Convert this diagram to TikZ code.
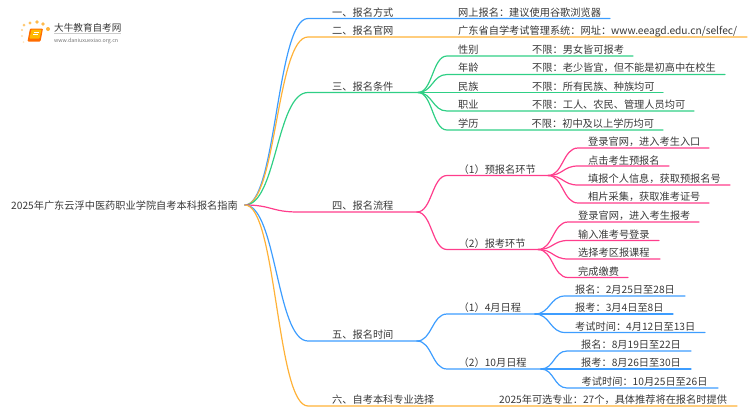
\documentclass[tikz,border=0pt]{standalone}
\usepackage{fontspec}
\setmainfont{Noto Sans CJK SC}
\usetikzlibrary{calc}
\definecolor{cblue}{HTML}{3D9DFF}
\definecolor{corange}{HTML}{FFB238}
\definecolor{cgreen}{HTML}{2FCF85}
\definecolor{cpink}{HTML}{FF3D8C}
\definecolor{ctext}{HTML}{383838}
\tikzset{
  lab/.style={anchor=west,inner sep=0pt,yshift=-1pt,text height=8.5pt,text depth=1.5pt,text=ctext,font=\fontsize{10.2}{12}\selectfont},
  wire/.style={line width=1.2pt,line cap=round,line join=round}
}
% \cv{style}{from}{to}{end}: S-curve from a hub to a point, then a straight underline
\newcommand\cv[4]{\draw[wire,#1] (#2) .. controls ($(#2)!.5!(#2-|#3)$) and ($(#3)!.5!(#3-|#2)$) .. (#3) -- (#4);}
\begin{document}
\begin{tikzpicture}[x=1pt,y=-1pt]
\useasboundingbox (0,0) rectangle (750,410);
% logo
\foreach \x/\y/\r/\o in {24/25/1.5/.7,30/23/1.7/.8,37/22/1.8/.9,43/24/1.8/.9,48/29/2/1,22/30/1.2/.6,22/36/1.1/.4,23.5/42/1/.3}
  \fill[corange,opacity=\o] (\x,\y) circle (\r);
\fill[rounded corners=1pt,orange!85!red] (30,28.5) -- (43,28.5) -- (40.5,41.5) -- (27.5,41.5) -- cycle;
\fill[rounded corners=.6pt,orange!55!yellow] (31.5,29.5) -- (41.5,29.5) -- (39.5,38.5) -- (29.5,38.5) -- cycle;
\draw[white,line width=.5pt] (33.5,32.5) -- (38.5,32.5) (33,34.5) -- (38,34.5);
\node[lab,font=\fontsize{9.6}{11}\selectfont] (logoa) at (54,26.5) {大牛教育自考网};
\draw[black!20,line width=.5pt] (54,33.3) -- (121,33.3);
\node[lab,text=black!55,font=\fontsize{5.3}{6}\selectfont] (logob) at (54,38.2) {www.daniuxuexiao.org.cn};

% hubs and ends
\coordinate (root) at (245,205);
\coordinate (h3) at (418,92.5);
\coordinate (h4) at (417,212);
\coordinate (h5) at (417,341);
\coordinate (h41) at (548,175.5);
\coordinate (h42) at (538,249.5);
\coordinate (h51) at (535,314);
\coordinate (h52) at (541,369);

% first level
\cv{cblue}{root}{308,18.5}{610,18.5}
\cv{corange}{root}{308,37}{747,37}
\cv{cgreen}{root}{308,92.5}{h3}
\cv{cpink}{root}{298,212}{h4}
\cv{cblue}{root}{308,341}{h5}
\cv{corange}{root}{308,406}{737,406}
% conditions
\cv{cgreen}{h3}{447,56}{633,56}
\cv{cgreen}{h3}{447,74.5}{725,74.5}
\cv{cgreen}{h3}{447,92.5}{663,92.5}
\cv{cgreen}{h3}{447,111}{694,111}
\cv{cgreen}{h3}{447,130}{663,130}
% process
\cv{cpink}{h4}{447,175.5}{h41}
\cv{cpink}{h4}{447,249.5}{h42}
\cv{cpink}{h41}{578,148}{709,148}
\cv{cpink}{h41}{578,166}{669,166}
\cv{cpink}{h41}{578,185}{730,185}
\cv{cpink}{h41}{578,203}{709,203}
\cv{cpink}{h42}{568,222}{699,222}
\cv{cpink}{h42}{568,240.5}{659,240.5}
\cv{cpink}{h42}{568,259}{660,259}
\cv{cpink}{h42}{568,277.5}{628,277.5}
% dates
\cv{cblue}{h5}{447,314}{h51}
\cv{cblue}{h5}{447,369}{h52}
\cv{cblue}{h51}{565,296}{685,296}
\cv{cblue}{h51}{565,314}{673,314}
\cv{cblue}{h51}{565,332.5}{705,332.5}
\cv{cblue}{h52}{567,351}{691,351}
\cv{cblue}{h52}{567,369}{691,369}
\cv{cblue}{h52}{567,388}{718,388}

% texts
\node[lab] (troot) at (11,205) {2025年广东云浮中医药职业学院自考本科报名指南};
\node[lab] (t1) at (332,11.5) {一、报名方式};
\node[lab] (t2) at (332,30) {二、报名官网};
\node[lab] (t3) at (332,85.5) {三、报名条件};
\node[lab] (t4) at (332,205) {四、报名流程};
\node[lab] (t5) at (332,334) {五、报名时间};
\node[lab] (t6) at (332,399) {六、自考本科专业选择};
\node[lab] (a1) at (458,11.5) {网上报名：建议使用谷歌浏览器};
\node[lab] (a2) at (458,30) {广东省自学考试管理系统：网址：www.eeagd.edu.cn/selfec/};
\node[lab] (c1) at (458,48.5) {性别};
\node[lab] (c2) at (458,67) {年龄};
\node[lab] (c3) at (458,85.5) {民族};
\node[lab] (c4) at (458,104) {职业};
\node[lab] (c5) at (458,122.5) {学历};
\node[lab] (d1) at (532,48.5) {不限：男女皆可报考};
\node[lab] (d2) at (532,67) {不限：老少皆宜，但不能是初高中在校生};
\node[lab] (d3) at (532,85.5) {不限：所有民族、种族均可};
\node[lab] (d4) at (532,104) {不限：工人、农民、管理人员均可};
\node[lab] (d5) at (531.5,122.5) {不限：初中及以上学历均可};
\node[lab] (p1) at (458.5,168.5) {（1）预报名环节};
\node[lab] (p2) at (458.5,242.5) {（2）报考环节};
\node[lab] (p11) at (588,141) {登录官网，进入考生入口};
\node[lab] (p12) at (588,159.5) {点击考生预报名};
\node[lab] (p13) at (588,178) {填报个人信息，获取预报名号};
\node[lab] (p14) at (588,196) {相片采集，获取准考证号};
\node[lab] (p21) at (578,215) {登录官网，进入考生报考};
\node[lab] (p22) at (578,233.5) {输入准考号登录};
\node[lab] (p23) at (578,252) {选择考区报课程};
\node[lab] (p24) at (578,270.5) {完成缴费};
\node[lab] (s1) at (458.5,307) {（1）4月日程};
\node[lab] (s2) at (458.5,362) {（2）10月日程};
\node[lab] (s11) at (575,289) {报名：2月25日至28日};
\node[lab] (s12) at (575,307) {报考：3月4日至8日};
\node[lab] (s13) at (575,325.5) {考试时间：4月12日至13日};
\node[lab] (s21) at (581,344) {报名：8月19日至22日};
\node[lab] (s22) at (581,362) {报考：8月26日至30日};
\node[lab] (s23) at (581.5,381) {考试时间：10月25日至26日};
\node[lab] (a6) at (499,399) {2025年可选专业：27个，具体推荐将在报名时提供};
\end{tikzpicture}
\end{document}
